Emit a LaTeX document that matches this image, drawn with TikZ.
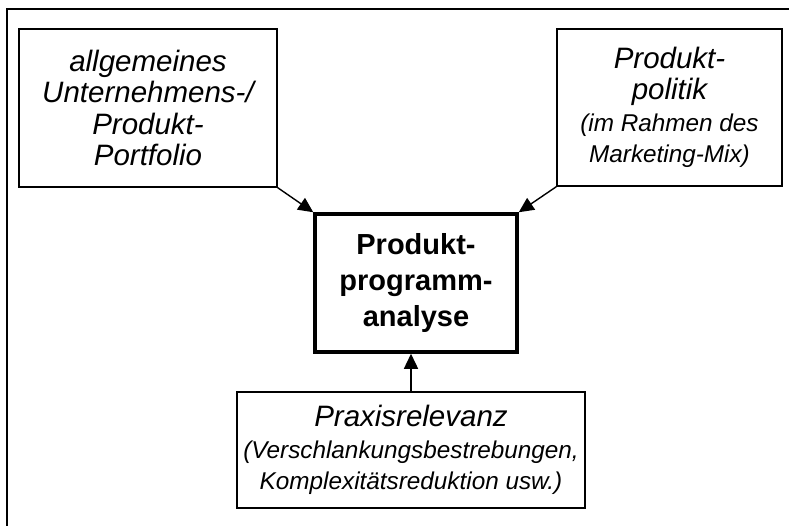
\documentclass[tikz,border=0pt]{standalone}
\usepackage{fontspec}
\setmainfont{Liberation Sans}
\usetikzlibrary{arrows.meta}
\tikzset{
  box/.style={draw=black, line width=1.4pt, align=center, inner sep=0pt},
  mainbox/.style={draw=black, line width=3.5pt, align=center, inner sep=0pt},
  conn/.style={line width=1.4pt, -{Triangle[length=15pt,width=14pt]}},
  big/.style={font=\fontsize{29.5}{31.5}\selectfont\itshape},
}
\newcommand{\smalltxt}{\fontsize{24.3}{27}\selectfont\itshape}
\begin{document}
\begin{tikzpicture}[x=1pt,y=-1pt]
\useasboundingbox (0,0) rectangle (789,526);
\clip (0,0) rectangle (789,526);
\fill[white] (0,0) rectangle (789,526);
\draw[line width=1.6pt] (7,9) rectangle (820,560);

\node[box, big, minimum width=258pt, minimum height=158pt] (left) at (148,108)
  {allgemeines\\ Unternehmens-/\\ Produkt-\\ Portfolio};
\node[box, big, minimum width=225pt, minimum height=157pt] (right) at (669.5,107.5)
  {Produkt-\\ politik\\ \smalltxt (im Rahmen des\\ \smalltxt Marketing-Mix)};
\node[mainbox, font=\fontsize{29}{36}\selectfont\bfseries, minimum width=202pt, minimum height=138pt] (center) at (416,283)
  {Produkt-\\ programm-\\ analyse};
\node[box, big, minimum width=348pt, minimum height=116pt] (bottom) at (411,450)
  {Praxisrelevanz\\ \smalltxt (Verschlankungsbestrebungen,\\ \smalltxt Komplexitätsreduktion usw.)};

\draw[conn] (left.south east) -- (center.north west);
\draw[conn] (right.south west) -- (center.north east);
\draw[conn] (bottom.north) -- (bottom.north |- center.south);
\end{tikzpicture}
\end{document}
